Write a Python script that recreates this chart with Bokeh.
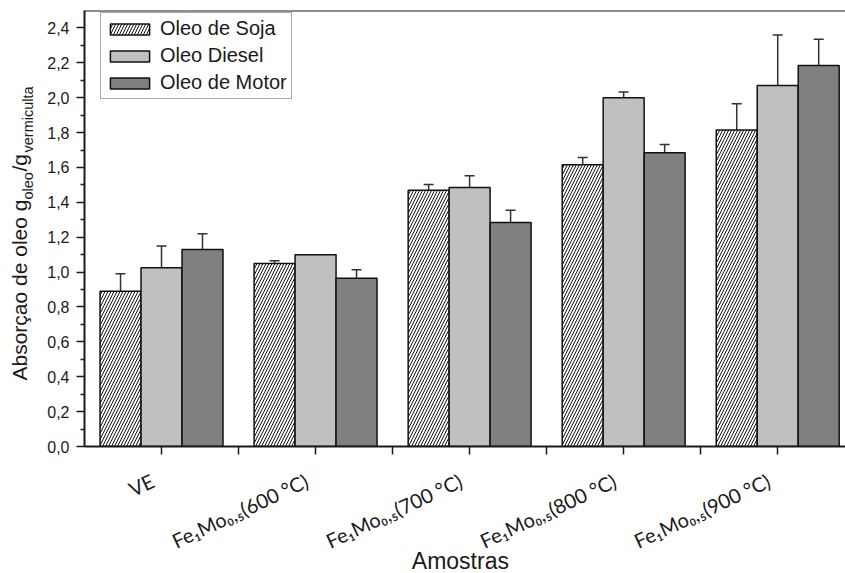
import math
import numpy as np
from bokeh.plotting import figure
from bokeh.layouts import row, column
from bokeh.core.properties import value
from bokeh.models import (ColumnDataSource, Range1d, FixedTicker, CustomJSTickFormatter,
                          Whisker, TeeHead, Legend, LegendItem, Span)
from bokeh.embed import file_html
from bokeh.resources import INLINE

# ---------------- data ----------------
categories = ["VE", "Fe₁Mo₀,₅(600 °C)", "Fe₁Mo₀,₅(700 °C)", "Fe₁Mo₀,₅(800 °C)", "Fe₁Mo₀,₅(900 °C)"]
series_names = ["Oleo de Soja", "Oleo Diesel", "Oleo de Motor"]
soja = [0.89, 1.05, 1.47, 1.615, 1.815]
soja_err = [0.10, 0.015, 0.033, 0.042, 0.15]
diesel = [1.025, 1.10, 1.485, 2.00, 2.07]
diesel_err = [0.125, 0.0, 0.067, 0.032, 0.29]
motor = [1.13, 0.965, 1.285, 1.685, 2.185]
motor_err = [0.09, 0.048, 0.07, 0.046, 0.15]
y_ticks = [0.0, 0.2, 0.4, 0.6, 0.8, 1.0, 1.2, 1.4, 1.6, 1.8, 2.0, 2.2, 2.4]
y_minor = [0.1, 0.3, 0.5, 0.7, 0.9, 1.1, 1.3, 1.5, 1.7, 1.9, 2.1, 2.3]
x_title = "Amostras"
y_title_parts = ["Absorçao de oleo g", "oleo", "/g", "vermiculta"]

# ---------------- geometry ----------------
FONT = "Liberation Sans"
INK = "#1a1a1a"
BW = 0.266
W, H = 845, 573
Y_STRIP = 44            # left strip holding the y-axis title
MAIN_H = 456            # main plot height (frame 10..446)
X0, X1, Y0, Y1 = -0.5, 4.44, 0.0, 2.5

x_range = Range1d(X0, X1)

# ---------------- main plot ----------------
p = figure(width=W - Y_STRIP, height=MAIN_H, output_backend="svg", toolbar_location=None,
           title=None, x_range=x_range, y_range=Range1d(Y0, Y1),
           min_border_left=84 - Y_STRIP, min_border_right=0, min_border_top=10,
           min_border_bottom=MAIN_H - 446)
p.outline_line_color = None
p.grid.visible = False
p.background_fill_color = "white"

idx = np.arange(len(categories))
src = ColumnDataSource(dict(
    x1=idx - BW, x2=idx, x3=idx + BW,
    soja=soja, diesel=diesel, motor=motor,
    s_lo=np.array(soja) - np.array(soja_err), s_hi=np.array(soja) + np.array(soja_err),
    d_lo=np.array(diesel) - np.array(diesel_err), d_hi=np.array(diesel) + np.array(diesel_err),
    m_lo=np.array(motor) - np.array(motor_err), m_hi=np.array(motor) + np.array(motor_err),
))

r1 = p.vbar(x="x1", top="soja", width=BW, source=src, fill_color="white",
            hatch_pattern="/", hatch_color="#111111", hatch_scale=6, hatch_weight=1,
            line_color="#111111", line_width=1.5)
r2 = p.vbar(x="x2", top="diesel", width=BW, source=src, fill_color="#c0c0c0",
            line_color="#111111", line_width=1.5)
r3 = p.vbar(x="x3", top="motor", width=BW, source=src, fill_color="#808080",
            line_color="#111111", line_width=1.5)

for base, lo, hi in (("x1", "s_lo", "s_hi"), ("x2", "d_lo", "d_hi"), ("x3", "m_lo", "m_hi")):
    w = Whisker(source=src, base=base, lower=lo, upper=hi, dimension="height",
                line_color="#333333", line_width=1.5,
                upper_head=TeeHead(size=10, line_color="#333333", line_width=1.5),
                lower_head=TeeHead(size=10, line_color="#333333", line_width=1.5))
    p.add_layout(w)

# top frame line
p.add_layout(Span(location=Y1, dimension="width", line_color=INK, line_width=2))

xa = p.xaxis[0]
xa.ticker = FixedTicker(ticks=list(idx), minor_ticks=[0.5, 1.5, 2.5, 3.5])
xa.formatter = CustomJSTickFormatter(code="return '';")
xa.major_label_text_font_size = "1px"
xa.major_label_standoff = 0
xa.major_tick_out = 8
xa.major_tick_in = 0
xa.minor_tick_out = 8
xa.minor_tick_in = 0
xa.axis_line_width = 2
xa.axis_line_color = INK
xa.major_tick_line_color = INK
xa.minor_tick_line_color = INK
xa.major_tick_line_width = 1.5
xa.minor_tick_line_width = 1.5

ya = p.yaxis[0]
ya.ticker = FixedTicker(ticks=y_ticks, minor_ticks=y_minor)
ya.formatter = CustomJSTickFormatter(code="return tick.toFixed(1).replace('.', ',');")
ya.major_label_text_font = FONT
ya.major_label_text_font_size = "16px"
ya.major_label_text_color = INK
ya.major_label_standoff = 7
ya.major_tick_out = 8
ya.major_tick_in = 0
ya.minor_tick_out = 4
ya.minor_tick_in = 0
ya.axis_line_width = 2
ya.axis_line_color = INK
ya.major_tick_line_color = INK
ya.minor_tick_line_color = INK
ya.major_tick_line_width = 1.5
ya.minor_tick_line_width = 1.5

legend = Legend(items=[LegendItem(label=series_names[0], renderers=[r1]),
                       LegendItem(label=series_names[1], renderers=[r2]),
                       LegendItem(label=series_names[2], renderers=[r3])],
                location=(16, 347), margin=0, padding=4, spacing=4,
                glyph_width=49, glyph_height=14, label_height=20, label_standoff=6,
                label_text_font=FONT, label_text_font_size="20px", label_text_color=INK,
                border_line_color="#555555", border_line_width=1,
                background_fill_color="white", background_fill_alpha=1)
p.add_layout(legend)

# ---------------- bottom strip: category labels + x title ----------------
BOT_H = H - MAIN_H
xb = figure(width=W - Y_STRIP, height=BOT_H, output_backend="svg", toolbar_location=None,
            title=None, x_range=x_range, y_range=Range1d(MAIN_H, H),
            x_axis_type=None, y_axis_type=None,
            min_border_left=84 - Y_STRIP, min_border_right=0, min_border_top=0,
            min_border_bottom=0)
xb.outline_line_color = None
xb.grid.visible = False
# y in this strip is expressed as (MAIN_H + H) - canvas row
flip = MAIN_H + H
xb.text(x=idx, y=[flip - 468] * len(idx), text=categories, angle=math.radians(25),
        x_offset=-14, text_font=value("Lato"), text_font_size="20px", text_color=INK,
        text_align="right", text_baseline="top")
xb.text(x=[(X0 + X1) / 2 - 0.03], y=[flip - 560], text=[x_title], text_font=value(FONT),
        text_font_size="23px", text_color=INK, text_align="center",
        text_baseline="alphabetic")

# ---------------- left strip: y title with subscripts ----------------
yl = figure(width=Y_STRIP, height=H, output_backend="svg", toolbar_location=None,
            title=None, x_range=Range1d(0, Y_STRIP), y_range=Range1d(0, H),
            x_axis_type=None, y_axis_type=None, min_border=0)
yl.outline_line_color = None
yl.grid.visible = False
# (baseline x in px, start row py, font size)
title_layout = [(19, 380, "21px"), (27, 199, "14.5px"), (19, 171, "21px"), (27, 152, "14.5px")]
for txt, (bx, by, fs) in zip(y_title_parts, title_layout):
    yl.text(x=[bx], y=[H - by], text=[txt], angle=math.pi / 2, text_font=value(FONT),
            text_font_size=fs, text_color=INK, text_align="left",
            text_baseline="alphabetic")

layout = row(yl, column(p, xb, spacing=0), spacing=0)
open("out.html", "w").write(file_html(layout, INLINE))
